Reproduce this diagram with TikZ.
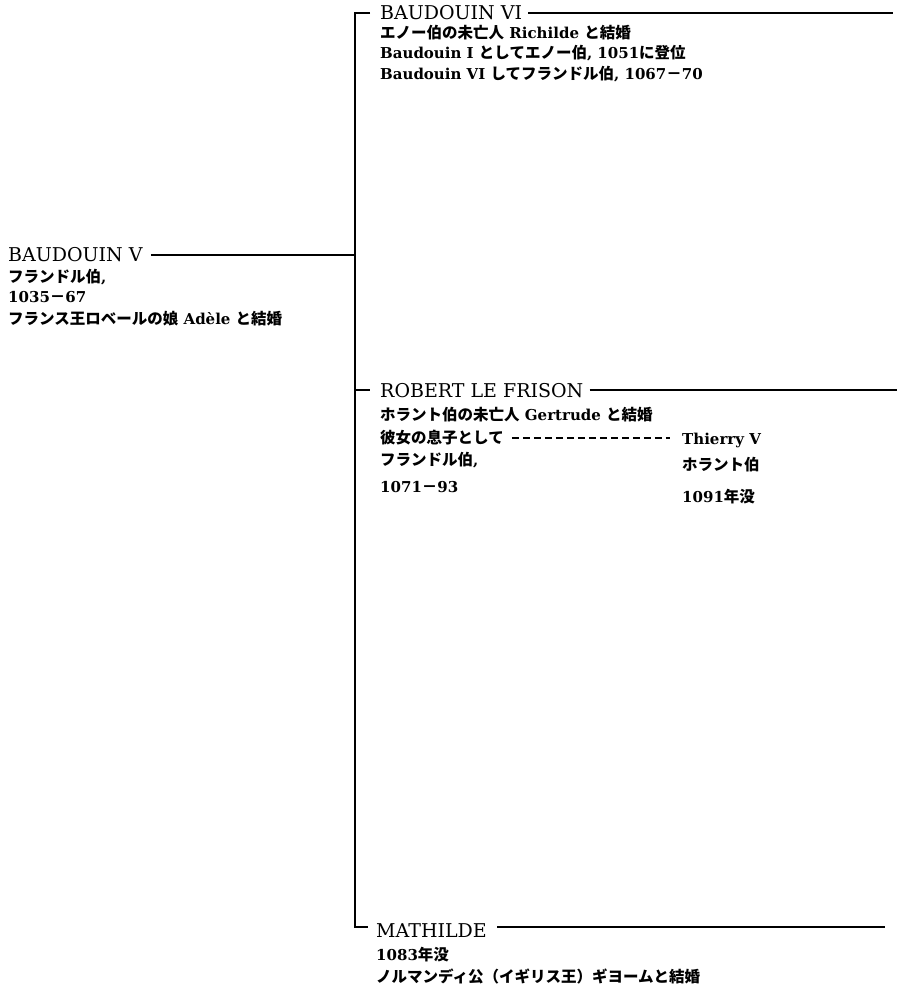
\documentclass[tikz,border=0pt]{standalone}
\usepackage{fontspec}
\setmainfont{DejaVu Serif}
\newfontfamily\jpf{Noto Sans CJK JP}
\newcommand{\J}[1]{{\fontsize{15.5}{15.5}\selectfont\jpf\bfseries #1}}
\tikzset{
  nm/.style={anchor=base west, inner sep=0pt, font=\fontsize{19}{19}\selectfont},
  nt/.style={anchor=base west, inner sep=0pt, font=\fontsize{15}{15}\selectfont\bfseries},
  ln/.style={line width=1.1pt, line cap=butt},
  dl/.style={line width=1.2pt, dash pattern=on 7pt off 4pt},
}
\begin{document}
\begin{tikzpicture}[x=1pt,y=-1pt]
\useasboundingbox (0,0) rectangle (900,989);
% spine coordinates
\coordinate (top) at (355,13);
\coordinate (topt) at (370,13);
\coordinate (jv) at (355,255);
\coordinate (jr) at (355,390);
\coordinate (jrt) at (370,390);
\coordinate (bot) at (355,927);
\coordinate (bott) at (368,927);
% line ends
\coordinate (e1) at (893,13);
\coordinate (e3) at (897,390);
\coordinate (e4) at (885,927);
\coordinate (dy) at (0,438);
\coordinate (d2) at (670,438);

% BAUDOUIN V
\node[nm] (bv) at (8,261) {BAUDOUIN V};
\node[nt] (bv1) at (8,282) {\J{フランドル伯},};
\node[nt] (bv2) at (8,302) {1035\J{－}67};
\node[nt] (bv3) at (8,324) {\J{フランス王ロベールの娘} Adèle \J{と結婚}};

% BAUDOUIN VI
\node[nm] (bvi) at (380,19) {BAUDOUIN VI};
\node[nt] (bvi1) at (380,38) {\J{エノー伯の未亡人} Richilde \J{と結婚}};
\node[nt] (bvi2) at (380,58) {Baudouin I \J{としてエノー伯}, 1051\J{に登位}};
\node[nt] (bvi3) at (380,79) {Baudouin VI \J{してフランドル伯}, 1067\J{－}70};

% ROBERT LE FRISON
\node[nm] (rob) at (380,397) {ROBERT LE FRISON};
\node[nt] (rob1) at (380,420) {\J{ホラント伯の未亡人} Gertrude \J{と結婚}};
\node[nt] (rob2) at (380,443) {\J{彼女の息子として}};
\node[nt] (rob3) at (380,465) {\J{フランドル伯},};
\node[nt] (rob4) at (380,492) {1071\J{－}93};
\node[nt] (thi) at (682,444) {Thierry V};
\node[nt] (thi1) at (682,470) {\J{ホラント伯}};
\node[nt] (thi2) at (682,502) {1091\J{年没}};

% MATHILDE
\node[nm] (mat) at (376,937) {MATHILDE};
\node[nt] (mat1) at (376,960) {1083\J{年没}};
\node[nt] (mat2) at (376,982) {\J{ノルマンディ公（イギリス王）ギヨームと結婚}};

% connectors
\draw[ln] (topt) -- (top) -- (bot) -- (bott);
\draw[ln] (jr) -- (jrt);
\draw[ln] ([xshift=8pt]bv.east |- jv) -- (jv);
\draw[ln] ([xshift=6pt]bvi.east |- top) -- (e1);
\draw[ln] ([xshift=6pt]rob.east |- jr) -- (e3);
\draw[ln] ([xshift=10pt]mat.east |- bot) -- (e4);
\draw[dl] ([xshift=8pt]rob2.east |- dy) -- (d2);
\end{tikzpicture}
\end{document}
